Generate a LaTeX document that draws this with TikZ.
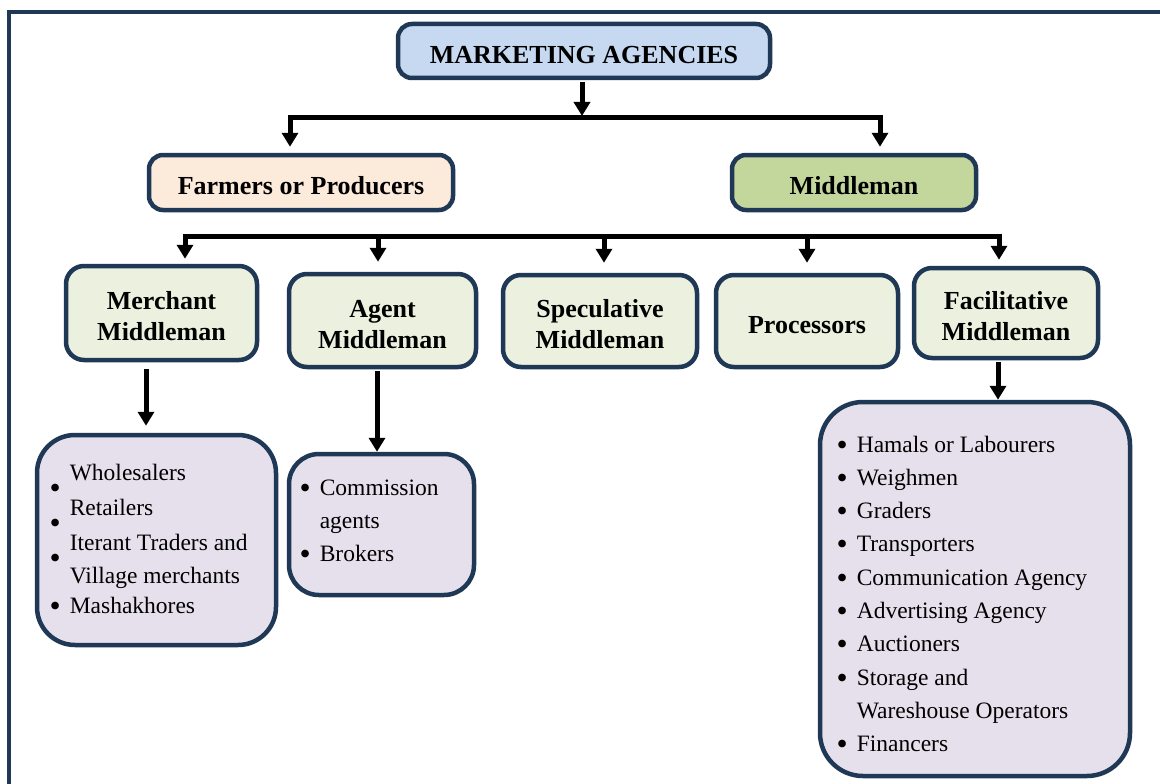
\documentclass[tikz,border=0pt]{standalone}
\usepackage{fontspec}
\setmainfont{Liberation Serif}
\usetikzlibrary{arrows.meta}

\definecolor{edge}{RGB}{31,56,86}
\definecolor{titlefill}{RGB}{198,217,241}
\definecolor{farmfill}{RGB}{252,234,219}
\definecolor{midfill}{RGB}{195,214,155}
\definecolor{typefill}{RGB}{235,241,222}
\definecolor{listfill}{RGB}{229,224,236}

\newcommand{\hdrfont}{\fontsize{26}{31}\selectfont\bfseries}
\newcommand{\listfont}{\fontsize{23.5}{33.3}\selectfont}
% taller first line so the heading text sits a little low in its box
\newcommand{\hstrut}{\rule{0pt}{25pt}}
% list bullets
\newcommand{\bul}{\raisebox{-3pt}[0pt][0pt]{\scalebox{1.35}{\textbullet}}}
\newcommand{\lowbul}{\raisebox{-18pt}[0pt][0pt]{\scalebox{1.35}{\textbullet}}}

\tikzset{
  box/.style={draw=edge, line width=4.5pt, rounded corners=14pt, inner sep=0pt,
              align=center, font=\hdrfont},
  listbox/.style={draw=edge, line width=4.5pt, fill=listfill, inner sep=0pt},
  listtext/.style={inner sep=0pt, anchor=base west, font=\listfont},
  arr/.style={line width=5pt, -{Triangle[width=16pt,length=14pt]}},
}

\begin{document}
\begin{tikzpicture}[x=1pt,y=-1pt]
  \useasboundingbox (0,0) rectangle (1160,784);
  \clip (0,0) rectangle (1160,784);
  \fill[white] (0,0) rectangle (1160,784);

  % outer frame
  \draw[edge, line width=4.5pt] (9,12) rectangle (1220,840);

  % top level
  \node[box, fill=titlefill, minimum width=372pt, minimum height=54pt] (title) at (584,51) {\hstrut MARKETING AGENCIES};

  % second level
  \node[box, fill=farmfill, minimum width=304pt, minimum height=55pt] (farmers) at (301,182.5) {\hstrut Farmers or Producers};
  \node[box, fill=midfill, minimum width=244pt, minimum height=55pt] (middleman) at (854,182.5) {\hstrut Middleman};

  % types of middlemen
  \node[box, fill=typefill, rounded corners=18pt, minimum width=191pt, minimum height=94pt] (merchant) at (161.5,313) {\hstrut Merchant\\Middleman};
  \node[box, fill=typefill, rounded corners=18pt, minimum width=187pt, minimum height=93pt] (agent) at (382.5,320.5) {\hstrut Agent\\Middleman};
  \node[box, fill=typefill, rounded corners=18pt, minimum width=194pt, minimum height=92pt] (spec) at (600,321) {\hstrut Speculative\\Middleman};
  \node[box, fill=typefill, rounded corners=18pt, minimum width=182pt, minimum height=92pt] (proc) at (807,321) {\hstrut Processors};
  \node[box, fill=typefill, rounded corners=18pt, minimum width=184pt, minimum height=90pt] (facil) at (1006,313) {\hstrut Facilitative\\Middleman};

  % lists
  \node[listbox, rounded corners=38pt, minimum width=239pt, minimum height=210pt] (mlist) at (156.5,540) {};
  \node[listtext] (mlisttext) at (49.5,480) {\begin{tabular}[t]{@{}l@{\hspace{9pt}}l@{}}
    \lowbul & Wholesalers\\[2pt]
    \lowbul & Retailers\\[2pt]
    \lowbul & Iterant Traders and\\
            & Village merchants\\[-4pt]
    \bul    & Mashakhores
  \end{tabular}};

  \node[listbox, rounded corners=30pt, minimum width=185pt, minimum height=141pt] (alist) at (381.5,524.5) {};
  \node[listtext] (alisttext) at (299.5,495) {\begin{tabular}[t]{@{}l@{\hspace{9pt}}l@{}}
    \bul & Commission\\
         & agents\\
    \bul & Brokers
  \end{tabular}};

  \node[listbox, rounded corners=43pt, minimum width=310pt, minimum height=374pt] (flist) at (975,589) {};
  \node[listtext] (flisttext) at (836.5,452) {\begin{tabular}[t]{@{}l@{\hspace{9pt}}l@{}}
    \bul & Hamals or Labourers\\
    \bul & Weighmen\\
    \bul & Graders\\
    \bul & Transporters\\
    \bul & Communication Agency\\
    \bul & Advertising Agency\\
    \bul & Auctioners\\
    \bul & Storage and\\
         & Wareshouse Operators\\
    \bul & Financers
  \end{tabular}};

  % junction points on the branching bars
  \coordinate (j1) at (582,117);
  \coordinate (j1L) at (290,117);
  \coordinate (j1R) at (880,117);
  \coordinate (j2) at (600,236);
  \coordinate (j2a) at (185,236);
  \coordinate (j2b) at (378,236);
  \coordinate (j2c) at (604,236);
  \coordinate (j2d) at (807,236);
  \coordinate (j2e) at (999,236);
  \coordinate (mx) at (146,0);
  \coordinate (ax) at (377,0);
  \coordinate (fx) at (998,0);

  % connectors
  \draw[arr, shorten <=2pt, shorten >=1pt] (title.south -| j1) -- (j1);
  \draw[arr, shorten >=6pt] (j1) -- (j1L) -- (j1L |- farmers.north);
  \draw[arr, shorten >=6pt] (j1) -- (j1R) -- (j1R |- middleman.north);

  \draw[arr, shorten >=5pt] (j2) -- (j2a) -- (j2a |- merchant.north);
  \draw[arr, shorten >=6pt] (j2) -- (j2e) -- (j2e |- facil.north);
  \draw[arr, shorten >=10pt] (j2b) -- (j2b |- agent.north);
  \draw[arr, shorten >=10pt] (j2c) -- (j2c |- spec.north);
  \draw[arr, shorten >=10pt] (j2d) -- (j2d |- proc.north);

  \draw[arr, shorten <=7pt, shorten >=7pt] (merchant.south -| mx) -- (mlist.north -| mx);
  \draw[arr, shorten <=2pt] (agent.south -| ax) -- (alist.north -| ax);
  \draw[arr, shorten <=2pt] (facil.south -| fx) -- (flist.north -| fx);
\end{tikzpicture}
\end{document}
